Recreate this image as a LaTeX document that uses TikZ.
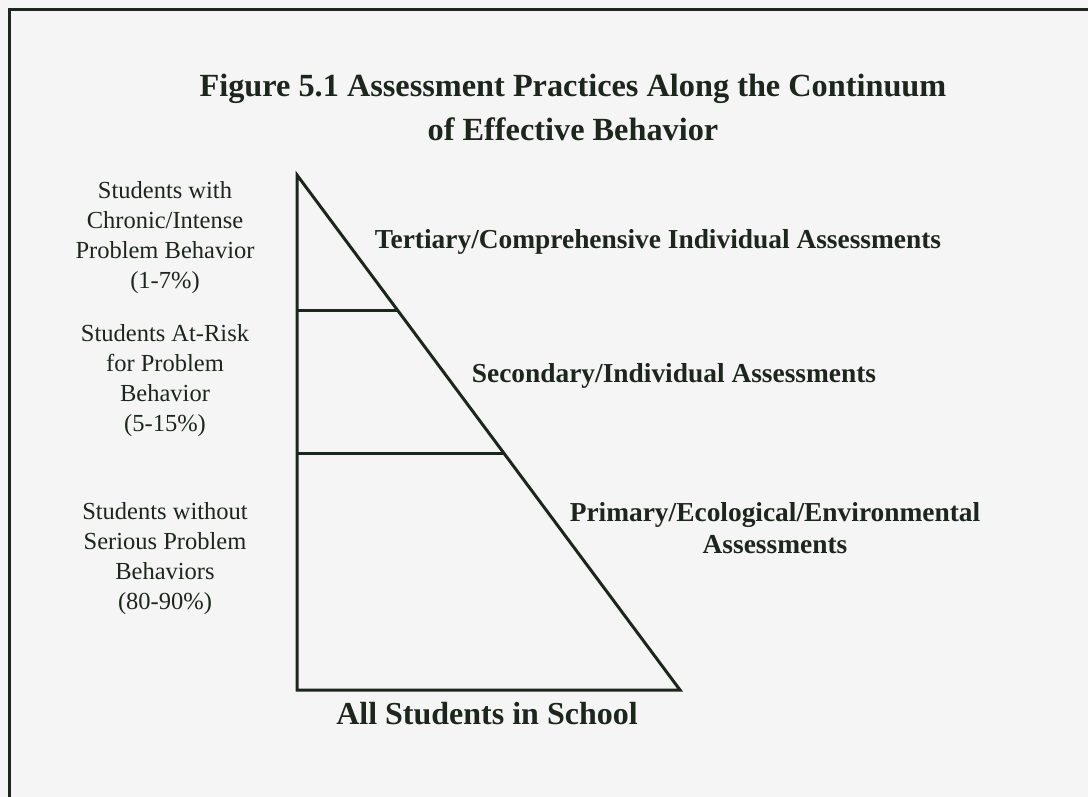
\documentclass[tikz,border=0pt]{standalone}
\usepackage{fontspec}
\setmainfont{Liberation Serif}
\definecolor{ink}{rgb}{0.11,0.15,0.11}

\begin{document}
\begin{tikzpicture}[x=0.5pt,y=-0.5pt,color=ink]
        \useasboundingbox[fill=black!4] (0,0) rectangle (1088,797);
        \draw[line width=1.5pt] (9,810) -- (9,10) -- (1100,10);

        \node[align=center,font=\bfseries\fontsize{16.15}{22}\selectfont] (title) at (573,107)
            {Figure 5.1 Assessment Practices Along the Continuum\\of Effective Behavior};

        \coordinate (apex) at (297,175);
        \coordinate (base) at (297,690);
        \coordinate (tip) at (680,690);
        \coordinate (d1) at (297,310);
        \coordinate (e1) at (397,310);
        \coordinate (d2) at (297,453);
        \coordinate (e2) at (503,453);

        \begin{scope}[line width=1.5pt]
            \draw (apex) -- (base) -- (tip) -- cycle;
            \draw (d1) -- (e1);
            \draw (d2) -- (e2);
        \end{scope}

        \begin{scope}[every node/.style={align=center,font=\fontsize{12.25}{15}\selectfont}]
            \node (chronic) at (165,238) {Students with\\Chronic/Intense\\Problem Behavior\\(1-7\%)};
            \node (atrisk) at (165,381) {Students At-Risk\\for Problem\\Behavior\\(5-15\%)};
            \node (without) at (165,559) {Students without\\Serious Problem\\Behaviors\\(80-90\%)};
        \end{scope}

        \begin{scope}[every node/.style={align=center,font=\bfseries\fontsize{13.7}{16}\selectfont}]
            \node (tertiary) at (658,242) {Tertiary/Comprehensive Individual Assessments};
            \node (secondary) at (674,376) {Secondary/Individual Assessments};
            \node (primary) at (775,528) {Primary/Ecological/Environmental\\Assessments};
        \end{scope}

        \node[font=\bfseries\fontsize{16}{19}\selectfont] (all) at (487,714) {All Students in School};
    \end{tikzpicture}
\end{document}
